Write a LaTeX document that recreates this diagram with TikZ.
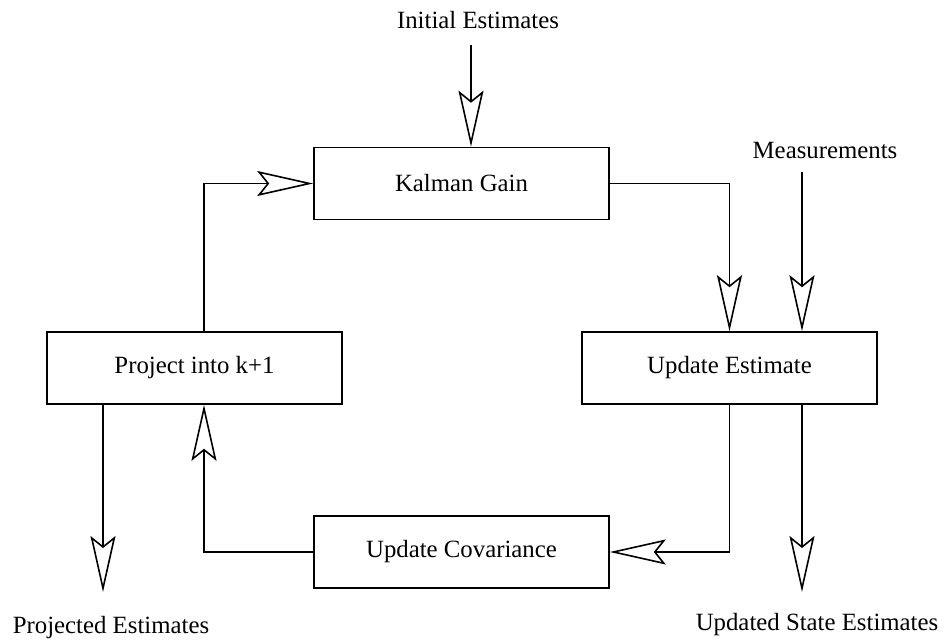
\documentclass[tikz,border=0pt]{standalone}
\usepackage{fontspec}
\setmainfont{Liberation Serif}
\usetikzlibrary{arrows.meta, positioning}

\begin{document}
\begin{tikzpicture}[x=0.5pt, y=-0.5pt,
		block/.style={draw, line width=0.8pt, minimum width=147.5pt, minimum height=36pt,
			inner sep=0pt, font=\fontsize{12.4}{15}\selectfont},
		extlabel/.style={inner sep=0pt, font=\fontsize{12.4}{15}\selectfont},
		arrow/.style={-{Stealth[open, fill=white, length=28pt, width=12.5pt, inset=5pt]},
			line width=0.8pt}
	]
		\useasboundingbox (0,0) rectangle (944,641);
		\node[block] (kalman) at (461.5,183.5) {Kalman Gain};
		\node[block] (project) at (194.5,368) {Project into k+1};
		\node[block] (updest) at (729.5,368) {Update Estimate};
		\node[block] (updcov) at (461.5,552) {Update Covariance};
		\node[extlabel] (init) at (478,20) {Initial Estimates};
		\node[extlabel] (meas) at (825,151) {Measurements};
		\node[extlabel] (projlbl) at (111,628) {Projected Estimates};
		\node[extlabel] (updlbl) at (817,625) {Updated State Estimates};
		\coordinate (initin) at (471,45);
		\coordinate (measin) at (802,172);
		\coordinate (projout) at (103,592);
		\coordinate (updout) at (802,592);
		% loop
		\draw[arrow] (kalman.east) -| (updest.north);
		\draw[arrow] (updest.south) |- (updcov.east);
		\draw[arrow] (updcov.west) -| ([xshift=4.75pt]project.south);
		\draw[arrow] ([xshift=4.75pt]project.north) |- (kalman.west);
		% inputs and outputs
		\draw[arrow] (initin) -- (initin |- kalman.north);
		\draw[arrow] (measin) -- (measin |- updest.north);
		\draw[arrow] (projout |- project.south) -- (projout);
		\draw[arrow] (updout |- updest.south) -- (updout);
	\end{tikzpicture}
\end{document}
